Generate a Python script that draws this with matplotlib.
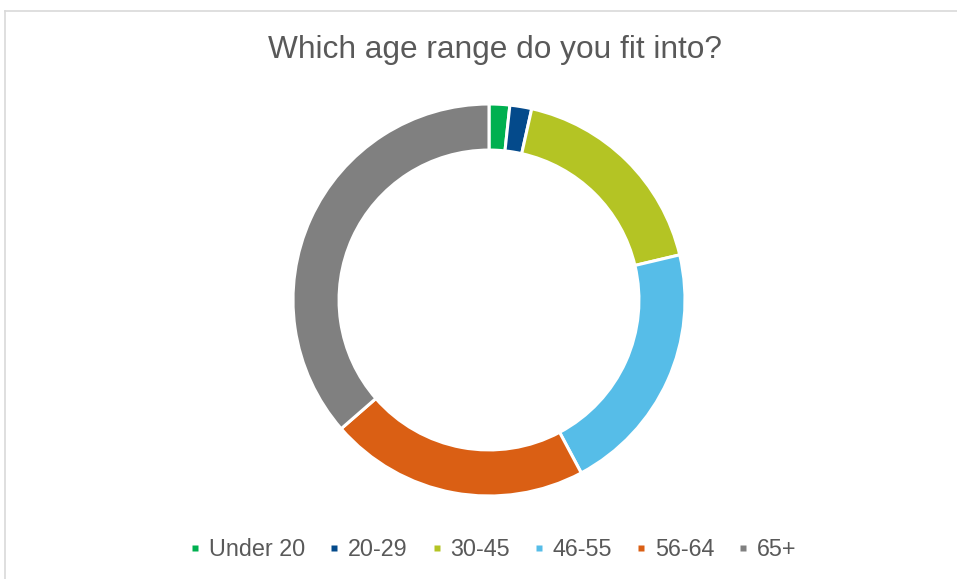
import matplotlib.pyplot as plt
from matplotlib.lines import Line2D

plt.rcParams['font.family'] = ['Liberation Sans', 'DejaVu Sans']

# 数据 (从图中估算的百分比)
labels = ['Under 20', '20-29', '30-45', '46-55', '56-64', '65+']
values = [1.7, 1.8, 17.8, 20.9, 21.4, 36.4]
colors = ['#00B050', '#044A8B', '#B4C424', '#56BDE8', '#DA5F14', '#808080']

W, H = 957, 579
fig = plt.figure(figsize=(W / 100, H / 100), dpi=100)

# 图表外框 (只有上边和左边在画面内)
fig.add_artist(Line2D([5 / W, 5 / W], [0, 1 - 11 / H], color='#D9D9D9', lw=1.2))
fig.add_artist(Line2D([5 / W, 1], [1 - 11 / H, 1 - 11 / H], color='#D9D9D9', lw=1.2))

# 圆环
cx, cy, r = 489, 300, 196
ax = fig.add_axes([(cx - r) / W, (H - cy - r) / H, 2 * r / W, 2 * r / H])
ax.pie(values, colors=colors, startangle=90, counterclock=False, radius=1,
       wedgeprops=dict(width=0.235, edgecolor='white', linewidth=2.2))
ax.set_xlim(-1, 1)
ax.set_ylim(-1, 1)
ax.set_aspect('equal')
ax.axis('off')

fig.text(495 / W, 1 - 58 / H, 'Which age range do you fit into?',
         ha='center', va='baseline', fontsize=22.8, color='#595959')

handles = [Line2D([], [], marker='s', linestyle='none', markersize=5,
                  markerfacecolor=c, markeredgecolor='none') for c in colors]
fig.legend(handles, labels, loc='center', bbox_to_anchor=(494 / W, 1 - 550 / H),
           ncol=6, frameon=False, fontsize=16.8, labelcolor='#595959',
           handlelength=0.3, handletextpad=0.43,
           columnspacing=1.1, borderpad=0, borderaxespad=0)

fig.savefig('out.png', dpi=100)
